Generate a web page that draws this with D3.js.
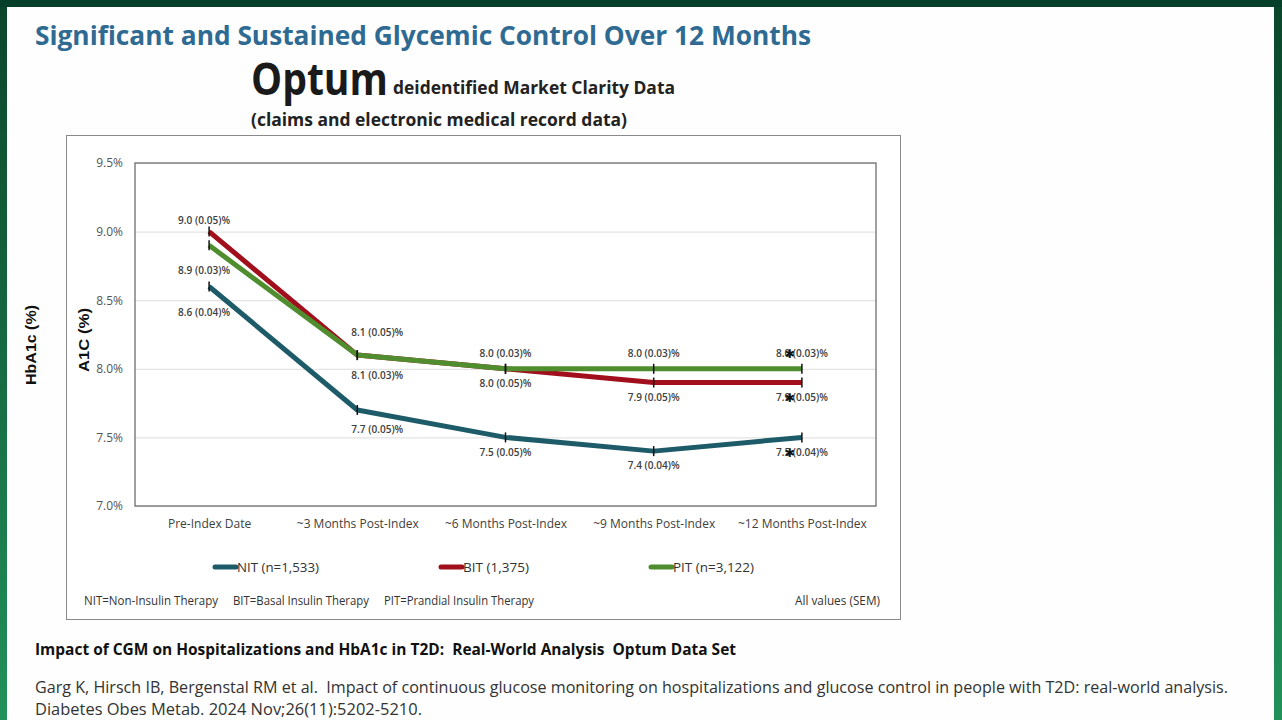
<!DOCTYPE html>
<html>
<head>
<meta charset="utf-8">
<script src="https://cdn.jsdelivr.net/npm/d3@7"></script>
<style>
  html, body { margin: 0; padding: 0; background: #fff; }
  svg { display: block; }
  svg text { white-space: pre; }
</style>
</head>
<body>
<div id="chart"></div>
<script>
// Chart values
const categories = ['Pre-Index Date', '~3 Months Post-Index', '~6 Months Post-Index', '~9 Months Post-Index', '~12 Months Post-Index'];
const nitValues = [8.6, 7.7, 7.5, 7.4, 7.5];
const bitValues = [9.0, 8.1, 8.0, 7.9, 7.9];
const pitValues = [8.9, 8.1, 8.0, 8.0, 8.0];
const nitSem = ['0.04', '0.05', '0.05', '0.04', '0.04'];
const bitSem = ['0.05', '0.05', '0.05', '0.05', '0.05'];
const pitSem = ['0.03', '0.03', '0.03', '0.03', '0.03'];
const yTicks = [7.0, 7.5, 8.0, 8.5, 9.0, 9.5];
const seriesNames = ['NIT (n=1,533)', 'BIT (1,375)', 'PIT (n=3,122)'];

// label placement (pixel offsets from each point, like hand-moved Excel labels)
const labelDx = {
  NIT: [-5, 20, 0, 0, 0],
  BIT: [-5, 20, 0, 0, 0],
  PIT: [-5, 20, 0, 0, 0]
};
const labelDy = {
  NIT: [26, 20, 15, 14, 15],
  BIT: [-11, -23, 15, 15, 15],
  PIT: [25, 20, -15, -15, -15]
};

const W = 1282, H = 720;
const calibri = "'Open Sans', 'Noto Sans', sans-serif";
const arial = "'Liberation Sans', Arial, sans-serif";

const svg = d3.select('#chart').append('svg')
  .attr('width', W)
  .attr('height', H);

// slide background with green border
const defs = svg.append('defs');
const grad = defs.append('linearGradient')
  .attr('id', 'edge')
  .attr('x1', 0).attr('y1', 0).attr('x2', 0).attr('y2', 1);
grad.append('stop').attr('offset', '0%').attr('stop-color', '#0a452a');
grad.append('stop').attr('offset', '100%').attr('stop-color', '#22915a');

svg.append('rect').attr('width', W).attr('height', H).attr('fill', 'url(#edge)');
svg.append('rect').attr('width', W).attr('height', 7).attr('fill', '#07402a');
svg.append('rect')
  .attr('x', 7).attr('y', 7)
  .attr('width', 1267).attr('height', H - 7)
  .attr('fill', '#fdfefd');

// squeeze a text to a given width (Calibri is narrower than what we have)
function fit(sel, w) {
  sel.attr('textLength', w).attr('lengthAdjust', 'spacingAndGlyphs');
}

// Headings
svg.append('text')
  .attr('x', 35).attr('y', 45)
  .attr('font-family', calibri).attr('font-weight', 700).attr('font-size', 27)
  .attr('fill', '#2f6a93')
  .text('Significant and Sustained Glycemic Control Over 12 Months')
  .call(fit, 776);

svg.append('text')
  .attr('x', 251).attr('y', 95)
  .attr('font-family', calibri).attr('font-weight', 700).attr('font-size', 44)
  .attr('fill', '#1a1a1a')
  .text('Optum')
  .call(fit, 137);

svg.append('text')
  .attr('x', 393).attr('y', 94)
  .attr('font-family', calibri).attr('font-weight', 700).attr('font-size', 18)
  .attr('fill', '#222')
  .text('deidentified Market Clarity Data')
  .call(fit, 282);

svg.append('text')
  .attr('x', 251).attr('y', 126)
  .attr('font-family', calibri).attr('font-weight', 700).attr('font-size', 18)
  .attr('fill', '#222')
  .text('(claims and electronic medical record data)')
  .call(fit, 376);

svg.append('text')
  .attr('transform', 'translate(36,345) rotate(-90)')
  .attr('text-anchor', 'middle')
  .attr('font-family', arial).attr('font-weight', 700).attr('font-size', 15)
  .attr('fill', '#111')
  .text('HbA1c (%)')
  .call(fit, 80);

// Chart frame
svg.append('rect')
  .attr('x', 66.5).attr('y', 135.5)
  .attr('width', 834).attr('height', 484)
  .attr('fill', '#fff')
  .attr('stroke', '#8a8a8a').attr('stroke-width', 1);

const plot = { left: 135, right: 876, top: 163, bottom: 506 };

const x = d3.scalePoint()
  .domain(categories)
  .range([plot.left, plot.right])
  .padding(0.5);

const y = d3.scaleLinear()
  .domain([7.0, 9.5])
  .range([plot.bottom, plot.top]);

// gridlines
const grid = svg.append('g')
  .attr('transform', `translate(${plot.left},0)`)
  .call(d3.axisLeft(y).tickValues(yTicks).tickSize(-(plot.right - plot.left)).tickFormat(''));
grid.select('.domain').remove();
grid.selectAll('line').attr('stroke', '#e3e3e3').attr('stroke-width', 1.2);

// plot area border
svg.append('rect')
  .attr('x', plot.left).attr('y', plot.top)
  .attr('width', plot.right - plot.left).attr('height', plot.bottom - plot.top)
  .attr('fill', 'none')
  .attr('stroke', '#6e6e6e').attr('stroke-width', 1.3);

// y axis labels
const yAxis = svg.append('g')
  .attr('transform', `translate(${plot.left},0)`)
  .call(d3.axisLeft(y).tickValues(yTicks).tickSize(0).tickPadding(12).tickFormat(d => d3.format('.1f')(d) + '%'));
yAxis.select('.domain').remove();
yAxis.selectAll('text')
  .attr('font-family', calibri).attr('font-size', 12)
  .attr('fill', '#555');

// x axis labels
const xAxis = svg.append('g')
  .attr('transform', `translate(0,${plot.bottom})`)
  .call(d3.axisBottom(x).tickSize(0).tickPadding(13));
xAxis.select('.domain').remove();
xAxis.selectAll('text')
  .attr('font-family', calibri).attr('font-size', 12)
  .attr('fill', '#404040');

svg.append('text')
  .attr('transform', 'translate(89,340) rotate(-90)')
  .attr('text-anchor', 'middle')
  .attr('font-family', arial).attr('font-weight', 700).attr('font-size', 15)
  .attr('fill', '#111')
  .text('A1C (%)')
  .call(fit, 64);

// Series
const series = [
  { key: 'NIT', values: nitValues, sem: nitSem, color: '#1e5b69' },
  { key: 'BIT', values: bitValues, sem: bitSem, color: '#a20f1c' },
  { key: 'PIT', values: pitValues, sem: pitSem, color: '#4f8d2f' }
];

const line = d3.line()
  .x((d, i) => x(categories[i]))
  .y(d => y(d));

// draw NIT, then BIT, then PIT on top (as in the slide)
series.forEach(s => {
  svg.append('path')
    .datum(s.values)
    .attr('d', line)
    .attr('fill', 'none')
    .attr('stroke', s.color)
    .attr('stroke-width', 5)
    .attr('stroke-linejoin', 'round');
});

// error-bar ticks
series.forEach(s => {
  svg.append('g')
    .selectAll('line')
    .data(s.values)
    .join('line')
    .attr('x1', (d, i) => x(categories[i]))
    .attr('x2', (d, i) => x(categories[i]))
    .attr('y1', d => y(d) - 5)
    .attr('y2', d => y(d) + 5)
    .attr('stroke', '#111')
    .attr('stroke-width', 1.5);
});

// value labels
series.forEach(s => {
  svg.append('g')
    .selectAll('text')
    .data(s.values)
    .join('text')
    .attr('x', (d, i) => x(categories[i]) + labelDx[s.key][i])
    .attr('y', (d, i) => y(d) + labelDy[s.key][i])
    .attr('dy', '0.35em')
    .attr('text-anchor', 'middle')
    .attr('font-family', calibri).attr('font-weight', 600).attr('font-size', 10)
    .attr('fill', '#404040')
    .text((d, i) => `${d3.format('.1f')(d)} (${s.sem[i]})%`)
    .attr('textLength', 52)
    .attr('lengthAdjust', 'spacingAndGlyphs');

  // significance asterisk at 12 months
  const last = s.values.length - 1;
  svg.append('text')
    .attr('x', x(categories[last]) - 12)
    .attr('y', y(s.values[last]) + labelDy[s.key][last])
    .attr('dy', '0.38em')
    .attr('text-anchor', 'middle')
    .attr('font-family', "'DejaVu Sans', sans-serif").attr('font-weight', 700).attr('font-size', 12)
    .attr('fill', '#111')
    .text('✱');
});

// Legend
const legendX = [215, 441, 651];
const legend = svg.append('g')
  .selectAll('g')
  .data(series)
  .join('g')
  .attr('transform', (d, i) => `translate(${legendX[i]},567)`);
legend.append('line')
  .attr('x1', 0).attr('x2', 21)
  .attr('stroke', d => d.color)
  .attr('stroke-width', 5)
  .attr('stroke-linecap', 'round');
legend.append('text')
  .attr('x', 22)
  .attr('dy', '0.35em')
  .attr('font-family', calibri).attr('font-size', 13)
  .attr('fill', '#333')
  .text((d, i) => seriesNames[i])
  .each(function(d, i) { d3.select(this).call(fit, [82, 66, 81][i]); });

// footnote inside the frame
const notes = [
  { t: 'NIT=Non-Insulin Therapy', x: 84, w: 134 },
  { t: 'BIT=Basal Insulin Therapy', x: 233, w: 136 },
  { t: 'PIT=Prandial Insulin Therapy', x: 384, w: 150 },
  { t: 'All values (SEM)', x: 795, w: 85 }
];
svg.append('g')
  .selectAll('text')
  .data(notes)
  .join('text')
  .attr('x', d => d.x)
  .attr('y', 601)
  .attr('dy', '0.35em')
  .attr('font-family', calibri).attr('font-size', 12)
  .attr('fill', '#333')
  .text(d => d.t)
  .each(function(d) { d3.select(this).call(fit, d.w); });

// source lines under the chart
svg.append('text')
  .attr('x', 35).attr('y', 655)
  .attr('font-family', calibri).attr('font-weight', 700).attr('font-size', 15.5)
  .attr('fill', '#111')
  .text('Impact of CGM on Hospitalizations and HbA1c in T2D:  Real-World Analysis  Optum Data Set')
  .call(fit, 701);

svg.append('text')
  .attr('x', 35).attr('y', 693)
  .attr('font-family', calibri).attr('font-size', 15.5)
  .attr('fill', '#333')
  .text('Garg K, Hirsch IB, Bergenstal RM et al.  Impact of continuous glucose monitoring on hospitalizations and glucose control in people with T2D: real-world analysis.')
  .call(fit, 1193);

svg.append('text')
  .attr('x', 35).attr('y', 715)
  .attr('font-family', calibri).attr('font-size', 15.5)
  .attr('fill', '#333')
  .text('Diabetes Obes Metab. 2024 Nov;26(11):5202-5210.')
  .call(fit, 387);
</script>
</body>
</html>
